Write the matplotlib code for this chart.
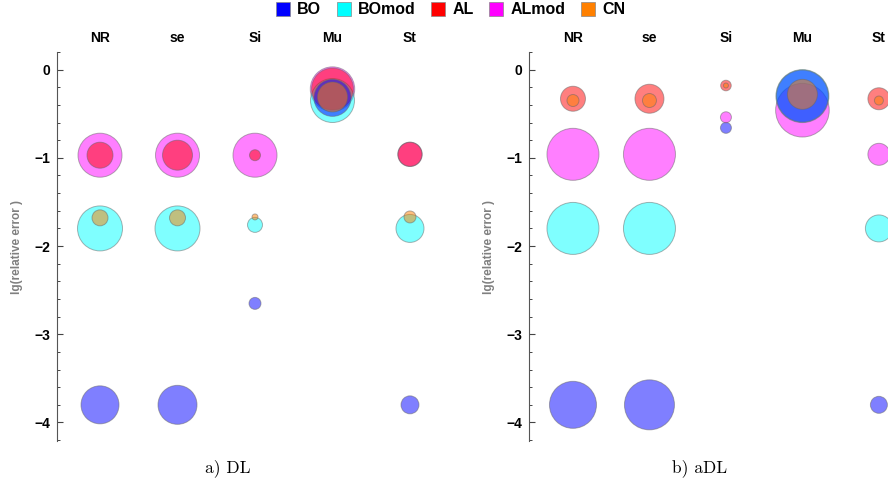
import numpy as np
import matplotlib
matplotlib.use("Agg")
import matplotlib.pyplot as plt
from matplotlib.lines import Line2D

plt.rcParams['font.family'] = ['Liberation Sans', 'DejaVu Sans']

categories = ["NR", "se", "Si", "Mu", "St"]
series = ["BO", "BOmod", "AL", "ALmod", "CN"]
colors = ["#0000ff", "#00ffff", "#ff0000", "#ff00ff", "#ff8000"]
nan = np.nan

# a) DL : lg(relative error) and bubble weight per category
dl_bo_err = [-3.80, -3.80, -2.65, -0.32, -3.80]
dl_bo_w = [19, 19.5, 6, 18.5, 9]
dl_bomod_err = [-1.80, -1.80, -1.76, -0.35, -1.80]
dl_bomod_w = [22.5, 22.5, 7.5, 22, 14]
dl_al_err = [-0.97, -0.97, -0.97, -0.22, -0.96]
dl_al_w = [13, 15, 5.5, 21, 12]
dl_almod_err = [-0.97, -0.97, -0.97, -0.22, -0.96]
dl_almod_w = [22, 22, 22, 22.2, 12.2]
dl_cn_err = [-1.68, -1.68, -1.67, -0.31, -1.67]
dl_cn_w = [8, 8, 3, 15, 6]

# b) aDL
adl_bo_err = [-3.80, -3.80, -0.66, -0.30, -3.80]
adl_bo_w = [23.5, 25, 5.5, 26, 8.5]
adl_bomod_err = [-1.80, -1.80, nan, -0.30, -1.80]
adl_bomod_w = [26, 26, nan, 26.5, 13.5]
adl_al_err = [-0.33, -0.33, -0.18, nan, -0.33]
adl_al_w = [12.5, 14.5, 5.3, nan, 11]
adl_almod_err = [-0.96, -0.96, -0.54, -0.46, -0.96]
adl_almod_w = [26, 26, 5.5, 26.8, 11]
adl_cn_err = [-0.35, -0.35, -0.18, -0.28, -0.35]
adl_cn_w = [6, 7, 2.5, 15, 4.5]

dl = [(dl_bo_err, dl_bo_w), (dl_bomod_err, dl_bomod_w), (dl_al_err, dl_al_w),
      (dl_almod_err, dl_almod_w), (dl_cn_err, dl_cn_w)]
adl = [(adl_bo_err, adl_bo_w), (adl_bomod_err, adl_bomod_w), (adl_al_err, adl_al_w),
       (adl_almod_err, adl_almod_w), (adl_cn_err, adl_cn_w)]


def draw_panel(ax, data):
    xs, ys, ws, cs = [], [], [], []
    for (err, w), c in zip(data, colors):
        for i in range(len(categories)):
            if np.isnan(err[i]):
                continue
            xs.append(i + 1)
            ys.append(err[i])
            ws.append(w[i])
            cs.append(c)
    # big bubbles first so the small ones stay visible
    order = np.argsort(-np.array(ws), kind="stable")
    xs = np.array(xs)[order]
    ys = np.array(ys)[order]
    ws = np.array(ws)[order]
    cs = [cs[k] for k in order]
    s = (2 * ws * 0.72) ** 2
    ax.scatter(xs, ys, s=s, c=cs, alpha=0.5, edgecolors=(0.4, 0.4, 0.4, 0.8),
               linewidths=0.7, zorder=3)
    ax.set_ylim(-4.21, 0.2)
    ax.set_yticks([0, -1, -2, -3, -4])
    ax.set_yticklabels(["0", "\u22121", "\u22122", "\u22123", "\u22124"],
                       fontweight="bold", fontsize=10)
    ax.set_yticks(np.arange(-4.2, 0.21, 0.2), minor=True)
    ax.tick_params(axis="y", which="major", direction="in", length=4.5, width=0.8,
                   color="#444444", pad=5)
    ax.tick_params(axis="y", which="minor", direction="in", length=2.3, width=0.7,
                   color="#444444")
    ax.set_xticks(range(1, len(categories) + 1))
    ax.set_xticklabels(categories, fontweight="bold", fontsize=10)
    ax.xaxis.tick_top()
    ax.tick_params(axis="x", length=0, pad=5)
    for side in ["top", "right", "bottom"]:
        ax.spines[side].set_visible(False)
    ax.spines["left"].set_color("#555555")
    ax.spines["left"].set_linewidth(0.8)
    ax.set_ylabel("lg(relative error )", color="#808080", fontweight="bold", fontsize=8.5)


fig = plt.figure(figsize=(8.88, 4.87), dpi=100)
ax1 = fig.add_axes([57 / 888, 46 / 487, 396 / 888, 389 / 487])
ax1.set_xlim(0.445, 5.555)
draw_panel(ax1, dl)
ax1.yaxis.set_label_coords(-0.085, 0.5)

ax2 = fig.add_axes([529 / 888, 46 / 487, 400 / 888, 389 / 487])
ax2.set_xlim(0.425, 5.655)
draw_panel(ax2, adl)
ax2.yaxis.set_label_coords(-0.085, 0.5)

handles = [Line2D([], [], marker="s", linestyle="none", markersize=9.5,
                  markerfacecolor=c, markeredgecolor="#888888", markeredgewidth=0.5)
           for c in colors]
fig.legend(handles, series, loc="center", bbox_to_anchor=(451 / 888, 1 - 10 / 487),
           ncol=5, frameon=False, handlelength=0.8, handletextpad=0.5,
           columnspacing=1.0, prop={"weight": "bold", "size": 11.5})

fig.text(228 / 888, 1 - 468 / 487, "a) DL", ha="center", va="center",
         fontfamily="cmr10", fontsize=12.5)
fig.text(700 / 888, 1 - 468 / 487, "b) aDL", ha="center", va="center",
         fontfamily="cmr10", fontsize=12.5)

fig.savefig("out.png", dpi=100)
